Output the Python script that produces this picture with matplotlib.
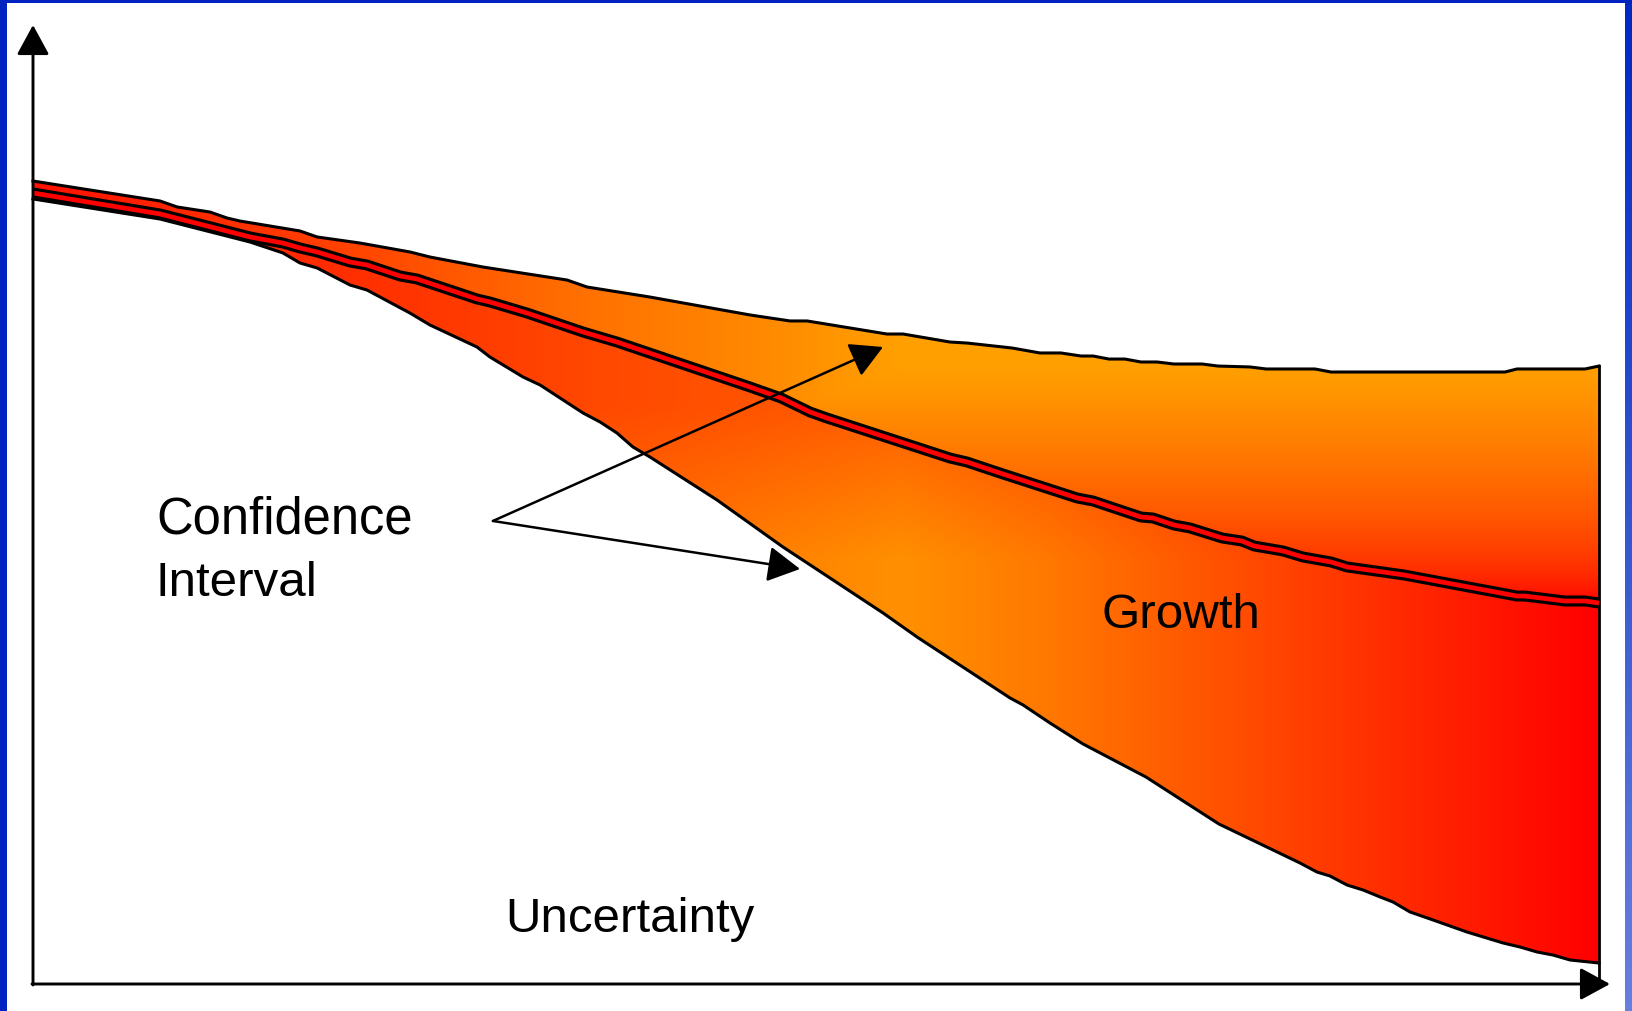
import numpy as np
import matplotlib
matplotlib.use("Agg")
import matplotlib.pyplot as plt
from matplotlib.patches import Polygon, Rectangle

# upper bound of the confidence interval
upper_x = [0.0, 8.11, 9.20, 11.30, 12.39, 13.22, 17.05, 18.14, 20.88, 24.07, 25.35,
           28.74, 34.10, 35.38, 39.40, 45.79, 48.34, 49.43, 54.53, 55.56, 58.56,
           59.64, 62.52, 64.30, 65.64, 66.92, 67.69, 68.71, 69.73, 70.75, 71.78,
           72.86, 74.65, 75.67, 77.71, 78.74, 81.86, 82.89, 94.00, 94.76, 99.11, 100.0]
upper_y = [87.28, 85.11, 84.46, 83.91, 83.26, 82.93, 81.85, 81.20, 80.54, 79.57, 79.02,
           77.93, 76.52, 75.76, 74.67, 72.72, 72.07, 72.07, 70.65, 70.65, 69.78,
           69.67, 69.13, 68.59, 68.59, 68.26, 68.26, 67.93, 67.93, 67.61, 67.61,
           67.39, 67.39, 67.17, 67.07, 66.85, 66.85, 66.52, 66.52, 66.85, 66.85, 67.17]

# central growth forecast
mid_x = [0.0, 8.11, 13.86, 15.96, 17.05, 18.14, 20.24, 21.33, 23.44, 24.52, 28.35,
         29.18, 31.55, 35.12, 37.29, 45.79, 47.77, 49.62, 50.70, 58.56, 59.64,
         61.75, 66.67, 67.69, 70.75, 71.52, 72.86, 73.88, 75.93, 77.20, 77.97,
         79.82, 81.10, 82.89, 83.91, 87.55, 94.76, 95.27, 97.83, 99.11, 100.0]
mid_y = [85.98, 83.70, 81.20, 80.54, 80.00, 79.57, 78.48, 78.15, 76.96, 76.63, 74.46,
         74.13, 72.93, 70.87, 69.78, 64.89, 63.70, 62.17, 61.52, 57.17, 56.74,
         55.54, 52.83, 52.50, 50.76, 50.65, 49.89, 49.57, 48.48, 48.15, 47.61,
         47.07, 46.41, 45.87, 45.33, 44.46, 42.17, 42.17, 41.63, 41.63, 41.41]

# lower bound of the confidence interval
low_x = [0.0, 8.11, 13.86, 15.96, 17.05, 18.14, 20.24, 21.33, 24.07, 25.35, 28.35,
         29.18, 31.29, 32.38, 35.12, 36.21, 37.29, 38.31, 39.40, 43.68, 47.89,
         54.28, 56.45, 62.39, 63.22, 64.94, 67.05, 71.07, 75.73, 80.91, 81.99,
         82.82, 83.91, 84.93, 86.02, 86.85, 87.93, 89.40, 91.57, 93.87, 94.96,
         96.04, 97.06, 98.15, 100.0]
low_y = [85.33, 83.15, 80.65, 79.46, 78.37, 77.83, 75.98, 75.43, 72.93, 71.63, 69.24,
         68.15, 65.98, 65.11, 62.07, 61.09, 59.89, 58.37, 57.28, 52.61, 47.50,
         40.33, 37.72, 31.09, 30.33, 28.37, 26.09, 22.50, 17.39, 13.15, 12.17,
         11.74, 10.76, 10.22, 9.46, 8.91, 7.83, 6.96, 5.65, 4.46, 4.02,
         3.48, 3.15, 2.61, 2.28]

labels = ["Confidence", "Interval", "Growth", "Uncertainty"]

plt.rcParams["font.family"] = ["Liberation Sans", "DejaVu Sans"]

W, H = 1633, 1011
fig = plt.figure(figsize=(W / 100, H / 100), dpi=100)
fig.patch.set_facecolor("white")

# slide frame (pixel coordinates)
bg = fig.add_axes([0, 0, 1, 1])
bg.axis("off")
bg.add_patch(Rectangle((0, 0), 7, H, color="#0022C0", lw=0))
bg.add_patch(Rectangle((0, H - 3), W, 3, color="#0022C0", lw=0))
blue = np.linspace(0, 1, 200)[:, None]
strip = np.dstack([0.0 + 0.40 * blue, 0.16 + 0.34 * blue, 0.76 + 0.12 * blue])
bg.imshow(strip, extent=[1625, W, 0, H], aspect="auto")
bg.set_xlim(0, W)
bg.set_ylim(0, H)

ax = fig.add_axes([33 / W, 27 / H, 1566 / W, 920 / H])
ax.axis("off")

gx = np.linspace(0, 100, 700)
gy = np.linspace(0, 100, 600)
X, Y = np.meshgrid(gx, gy)
orange_g = 160 / 255


def to_rgb(c):
    return np.dstack([np.ones_like(c), orange_g * c, np.zeros_like(c)])


# upper band: warm orange at the top, red towards the forecast line
hx_up = np.interp(X, [0, 19, 35, 46, 55.5, 100], [0.1, 0.4, 0.7, 0.85, 1.0, 1.0])
vy_up = np.clip((Y - 41.7) / (67.1 - 41.7), 0, 1) ** 0.6
c_up = np.minimum(hx_up, vy_up)

# lower band: red at both ends, orange around the middle, redder near the forecast
hx_low = np.interp(X, [0, 17.05, 36.2, 55.5, 64.9, 80.9, 100],
                   [0.15, 0.4, 0.7, 0.9, 0.75, 0.4, 0.0])
vy_low = np.maximum(0.65, 1 - 0.021 * np.clip(Y - 46, 0, None))
c_low = hx_low * vy_low

poly_up = Polygon(np.column_stack([upper_x + mid_x[::-1], upper_y + mid_y[::-1]]),
                  closed=True, fc="none", ec="none")
poly_low = Polygon(np.column_stack([mid_x + low_x[::-1], mid_y + low_y[::-1]]),
                   closed=True, fc="none", ec="none")
ax.add_patch(poly_up)
ax.add_patch(poly_low)

im_up = ax.imshow(to_rgb(c_up), extent=[0, 100, 0, 100], origin="lower",
                  aspect="auto", interpolation="bilinear", zorder=1)
im_up.set_clip_path(poly_up)
im_low = ax.imshow(to_rgb(c_low), extent=[0, 100, 0, 100], origin="lower",
                   aspect="auto", interpolation="bilinear", zorder=1)
im_low.set_clip_path(poly_low)

# outlines
ax.plot(upper_x, upper_y, color="black", lw=2.2, zorder=3,
        solid_joinstyle="round", clip_on=False)
ax.plot(low_x, low_y, color="black", lw=2.2, zorder=3,
        solid_joinstyle="round", clip_on=False)
ax.plot([upper_x[-1], upper_x[-1]], [upper_y[-1], 0], color="black", lw=2.0,
        zorder=3, clip_on=False)

# forecast line: black outline with a red core
ax.plot(mid_x, mid_y, color="black", lw=7.9, zorder=4, clip_on=False,
        solid_capstyle="butt", solid_joinstyle="round")
ax.plot(mid_x, mid_y, color="#FF0000", lw=3.4, zorder=5, clip_on=False,
        solid_capstyle="butt", solid_joinstyle="round")

ax.set_xlim(0, 100)
ax.set_ylim(0, 100)

# pointers for the confidence interval label
head = "-|>,head_length=1.0,head_width=0.55"
for tip in [(54.28, 69.24), (48.98, 45.11)]:
    ax.annotate("", xy=tip, xytext=(29.37, 50.33),
                arrowprops=dict(arrowstyle=head, mutation_scale=20, lw=1.8,
                                color="black", shrinkA=0, shrinkB=0),
                zorder=6)

# overlay for axes arrows and labels (pixel coordinates)
ov = fig.add_axes([0, 0, 1, 1])
ov.axis("off")
ov.set_xlim(0, W)
ov.set_ylim(0, H)
ov.patch.set_alpha(0)

axis_head = "-|>,head_length=0.92,head_width=0.5"
ov.annotate("", xy=(33, 986), xytext=(33, 26),
            arrowprops=dict(arrowstyle=axis_head, mutation_scale=20, lw=2.1,
                            color="black", shrinkA=0, shrinkB=0))
ov.annotate("", xy=(1610, 27), xytext=(32, 27),
            arrowprops=dict(arrowstyle=axis_head, mutation_scale=20, lw=2.1,
                            color="black", shrinkA=0, shrinkB=0))

fs = 35.5
ov.text(156, 478, labels[0], fontsize=36.5, va="baseline", ha="left")
ov.text(156, 415, labels[1], fontsize=fs, va="baseline", ha="left")
ov.text(1102, 383, labels[2], fontsize=fs, va="baseline", ha="left")
ov.text(505, 79, labels[3], fontsize=fs, va="baseline", ha="left")

fig.savefig("out.png", dpi=100)
